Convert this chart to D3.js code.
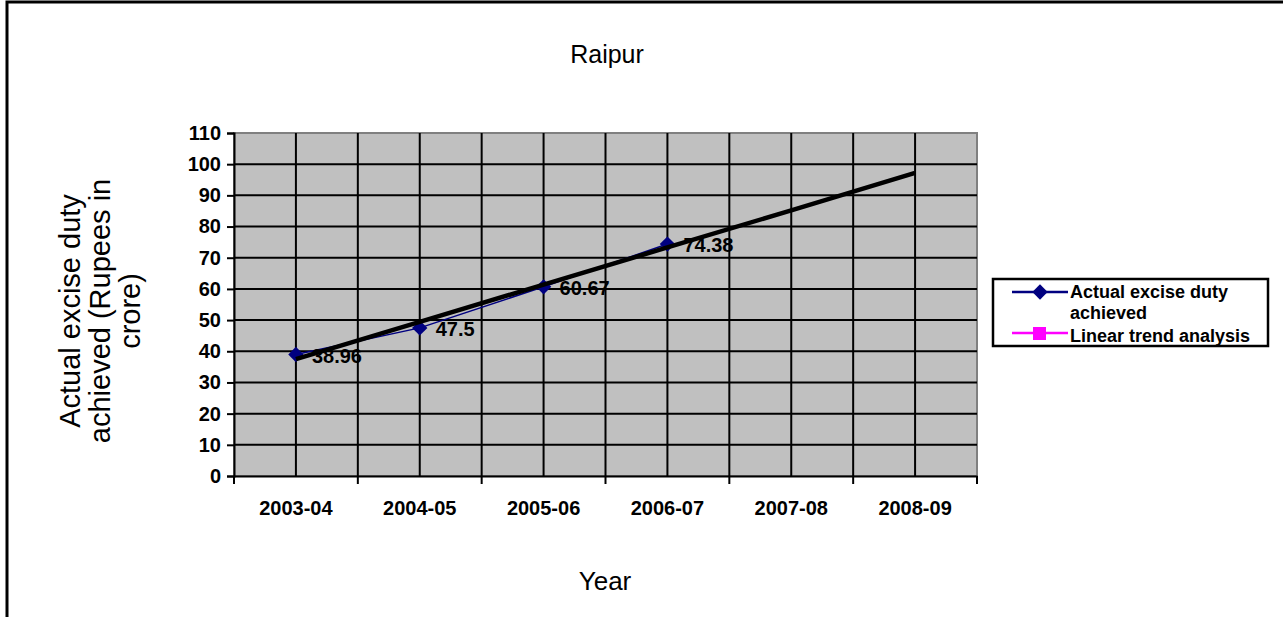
<!DOCTYPE html>
<html>
<head>
<meta charset="utf-8">
<script src="https://cdn.jsdelivr.net/npm/d3@7"></script>
<style>
body { margin:0; background:#fff; }
text { font-family: "Liberation Sans", Arial, sans-serif; }
</style>
</head>
<body>
<script>
// data
var years = ["2003-04","2004-05","2005-06","2006-07","2007-08","2008-09"];
var actual = [38.96, 47.5, 60.67, 74.38];
var trend = [37.5, 49.4, 61.4, 73.3, 85.2, 97.2];
var yTicks = [0,10,20,30,40,50,60,70,80,90,100,110];

var W = 1283, H = 617;
var svg = d3.select("body").append("svg")
    .attr("width", W)
    .attr("height", H);

// outer frame (runs off the right / bottom)
svg.append("rect")
    .attr("x", 7).attr("y", 2)
    .attr("width", W + 20).attr("height", H + 20)
    .attr("fill", "none")
    .attr("stroke", "#000")
    .attr("stroke-width", 3);

var x = d3.scaleBand().domain(years).range([234, 977]);
var y = d3.scaleLinear().domain([0, 110]).range([476, 133]);

// plot area
svg.append("rect")
    .attr("x", 234).attr("y", y(110))
    .attr("width", 977 - 234).attr("height", y(0) - y(110))
    .attr("fill", "#c0c0c0")
    .attr("stroke", "#808080")
    .attr("stroke-width", 2);

var grid = svg.append("g").attr("stroke", "#000").attr("stroke-width", 2);
grid.selectAll("line.h")
    .data(yTicks.slice(1, -1))
    .enter().append("line")
    .attr("x1", 234).attr("x2", 977)
    .attr("y1", function(d){ return y(d); })
    .attr("y2", function(d){ return y(d); });

// vertical grid: category edges and centres
var vx = [];
years.forEach(function(d, i){
    if (i > 0) vx.push(x(d));
    vx.push(x(d) + x.bandwidth() / 2);
});
grid.selectAll("line.v")
    .data(vx)
    .enter().append("line")
    .attr("x1", function(d){ return d; })
    .attr("x2", function(d){ return d; })
    .attr("y1", y(110)).attr("y2", y(0));

// axes
var yAxis = svg.append("g")
    .attr("transform", "translate(234,0)")
    .call(d3.axisLeft(y).tickValues(yTicks).tickSize(7).tickPadding(6));
var xAxis = svg.append("g")
    .attr("transform", "translate(0," + y(0) + ")")
    .call(d3.axisBottom(x).tickSize(0).tickPadding(25));
xAxis.selectAll(".tick").remove();

var edges = years.map(function(d){ return x(d); }).concat([977]);
xAxis.selectAll("line.edge")
    .data(edges)
    .enter().append("line")
    .attr("x1", function(d){ return d; })
    .attr("x2", function(d){ return d; })
    .attr("y1", 0).attr("y2", 8)
    .attr("stroke", "#000").attr("stroke-width", 2);
xAxis.selectAll("text.cat")
    .data(years)
    .enter().append("text")
    .attr("x", function(d){ return x(d) + x.bandwidth() / 2; })
    .attr("y", 39)
    .attr("text-anchor", "middle")
    .style("font-size", "20px")
    .style("font-weight", "bold")
    .attr("fill", "#000")
    .text(function(d){ return d; });

[yAxis, xAxis].forEach(function(g){
    g.select(".domain").attr("stroke", "#000").attr("stroke-width", 2);
    g.selectAll(".tick line").attr("stroke", "#000").attr("stroke-width", 2);
});
yAxis.selectAll(".tick text")
    .style("font-size", "20px")
    .style("font-weight", "bold")
    .style("font-family", "'Liberation Sans', Arial, sans-serif")
    .attr("fill", "#000");

var cx = function(i){ return x(years[i]) + x.bandwidth() / 2; };

// actual series
var line = d3.line()
    .x(function(d, i){ return cx(i); })
    .y(function(d){ return y(d); });
svg.append("path")
    .datum(actual)
    .attr("d", line)
    .attr("fill", "none")
    .attr("stroke", "#000080")
    .attr("stroke-width", 1.5);

var diamond = d3.symbol().type(d3.symbolDiamond2).size(150);
svg.selectAll("path.pt")
    .data(actual)
    .enter().append("path")
    .attr("d", diamond)
    .attr("transform", function(d, i){ return "translate(" + cx(i) + "," + y(d) + ")"; })
    .attr("fill", "#000080");

// trend line
svg.append("path")
    .datum(trend)
    .attr("d", line)
    .attr("fill", "none")
    .attr("stroke", "#000")
    .attr("stroke-width", 4.5);

// data labels
svg.selectAll("text.lbl")
    .data(actual)
    .enter().append("text")
    .attr("x", function(d, i){ return cx(i) + 16; })
    .attr("y", function(d){ return y(d); })
    .attr("dy", "0.4em")
    .style("font-size", "20px")
    .style("font-weight", "bold")
    .text(function(d){ return d; });

// titles
svg.append("text")
    .attr("x", 607).attr("y", 63)
    .attr("text-anchor", "middle")
    .style("font-size", "25px")
    .text("Raipur");

svg.append("text")
    .attr("x", 605).attr("y", 590)
    .attr("text-anchor", "middle")
    .style("font-size", "26px")
    .text("Year");

var yt = svg.append("text")
    .attr("transform", "translate(80,311) rotate(-90)")
    .attr("text-anchor", "middle")
    .style("font-size", "29px");
["Actual excise duty", "achieved (Rupees in", "crore)"].forEach(function(s, i){
    yt.append("tspan").attr("x", 0).attr("y", i * 30).text(s);
});

// legend
var lg = svg.append("g");
lg.append("rect")
    .attr("x", 993).attr("y", 279)
    .attr("width", 275).attr("height", 67)
    .attr("fill", "#fff")
    .attr("stroke", "#000")
    .attr("stroke-width", 2.5);
lg.append("line")
    .attr("x1", 1012).attr("x2", 1068)
    .attr("y1", 292).attr("y2", 292)
    .attr("stroke", "#000080").attr("stroke-width", 2.5);
lg.append("path")
    .attr("d", diamond)
    .attr("transform", "translate(1040,292)")
    .attr("fill", "#000080");
lg.append("line")
    .attr("x1", 1012).attr("x2", 1068)
    .attr("y1", 333).attr("y2", 333)
    .attr("stroke", "#ff00ff").attr("stroke-width", 2.5);
lg.append("rect")
    .attr("x", 1033).attr("y", 327)
    .attr("width", 13).attr("height", 13)
    .attr("fill", "#ff00ff");
var lt = lg.append("text")
    .style("font-size", "18px")
    .style("font-weight", "bold");
lt.append("tspan").attr("x", 1070).attr("y", 298).text("Actual excise duty");
lt.append("tspan").attr("x", 1070).attr("y", 319).text("achieved");
lt.append("tspan").attr("x", 1070).attr("y", 342).text("Linear trend analysis");
</script>
</body>
</html>
